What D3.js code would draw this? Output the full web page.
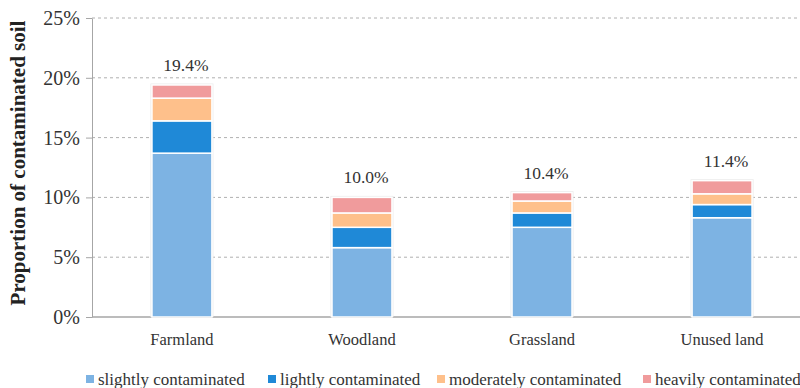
<!DOCTYPE html>
<html><head><meta charset="utf-8">
<script src="https://cdn.jsdelivr.net/npm/d3@7"></script>
<style>body{margin:0;background:#fff}svg{display:block}
svg text{font-family:"Liberation Serif","Times New Roman",Times,serif !important;}</style>
</head><body>
<svg id="c" width="800" height="388"></svg>
<script>
const categories = ["Farmland", "Woodland", "Grassland", "Unused land"];
const seriesNames = ["slightly contaminated", "lightly contaminated", "moderately contaminated", "heavily contaminated"];
const slightly = [13.7, 5.8, 7.5, 8.3];
const lightly = [2.7, 1.7, 1.2, 1.1];
const moderately = [1.9, 1.2, 1.0, 0.9];
const heavily = [1.1, 1.3, 0.7, 1.1];
const totalLabels = ["19.4%", "10.0%", "10.4%", "11.4%"];
const yTicks = [0, 5, 10, 15, 20, 25];
const colors = ["#7db3e3", "#1f89d7", "#fec08b", "#f09b9c"];

(function () {
const svg = d3.select("#c");
const mLeft = 92, mTop = 18, mBottom = 317, mRight = 812;

const x = d3.scaleBand().domain(categories).range([mLeft, mRight]).paddingInner(0.667).paddingOuter(0.333);
const y = d3.scaleLinear().domain([0, 25]).range([mBottom, mTop]);

svg.append("g").selectAll("line").data(yTicks.filter(t => t > 0)).join("line")
  .attr("x1", mLeft).attr("x2", 800).attr("y1", d => y(d)).attr("y2", d => y(d))
  .attr("stroke", "#b0b0b0").attr("stroke-width", 1).attr("stroke-dasharray", "3,3");

const yAxis = svg.append("g").attr("transform", `translate(${mLeft},0)`)
  .call(d3.axisLeft(y).tickValues(yTicks).tickFormat(d => d + "%").tickSize(6).tickSizeOuter(0));
yAxis.select(".domain").attr("stroke", "#a6a6a6");
yAxis.selectAll(".tick line").attr("stroke", "#a6a6a6");
yAxis.selectAll(".tick text").attr("font-size", 20).attr("fill", "#333").attr("x", -12);

svg.append("line").attr("x1", mLeft).attr("x2", 800).attr("y1", mBottom).attr("y2", mBottom)
  .attr("stroke", "#a6a6a6").attr("stroke-width", 1.5);

const rows = categories.map((c, i) => ({cat: c, s: [slightly[i], lightly[i], moderately[i], heavily[i]]}));
const bw = x.bandwidth();

rows.forEach((r, i) => {
  const total = d3.sum(r.s);
  svg.append("rect").attr("x", x(r.cat) - 1.5).attr("width", bw + 3)
    .attr("y", y(total) - 1.5).attr("height", mBottom - y(total) + 1.5)
    .attr("fill", "#ececec");
  let acc = 0;
  r.s.forEach((v, k) => {
    svg.append("rect").attr("x", x(r.cat)).attr("width", bw)
      .attr("y", y(acc + v)).attr("height", y(acc) - y(acc + v))
      .attr("fill", colors[k]).attr("stroke", "#fff").attr("stroke-width", 1.5);
    acc += v;
  });
  svg.append("text").attr("x", x(r.cat) + bw / 2 + 4).attr("y", y(total) - 14)
    .attr("text-anchor", "middle").attr("font-size", 17.5).attr("fill", "#333")
    .text(totalLabels[i]);
});

svg.append("g").selectAll("text").data(categories).join("text")
  .attr("x", d => x(d) + bw / 2).attr("y", 345).attr("text-anchor", "middle")
  .attr("font-size", 16.5).attr("fill", "#333").text(d => d);

svg.append("text").attr("transform", "translate(25,163) rotate(-90)").attr("text-anchor", "middle")
  .attr("font-size", 21).attr("font-weight", "bold").attr("fill", "#222")
  .text("Proportion of contaminated soil");

const legX = [86, 268, 437, 643];
const lg = svg.append("g").selectAll("g").data(seriesNames).join("g")
  .attr("transform", (d, i) => `translate(${legX[i]},375)`);
lg.append("rect").attr("width", 8).attr("height", 8).attr("fill", (d, i) => colors[i]);
lg.append("text").attr("x", 12).attr("y", 10).attr("font-size", 17).attr("fill", "#333").text(d => d);
})();
</script>
</body></html>
